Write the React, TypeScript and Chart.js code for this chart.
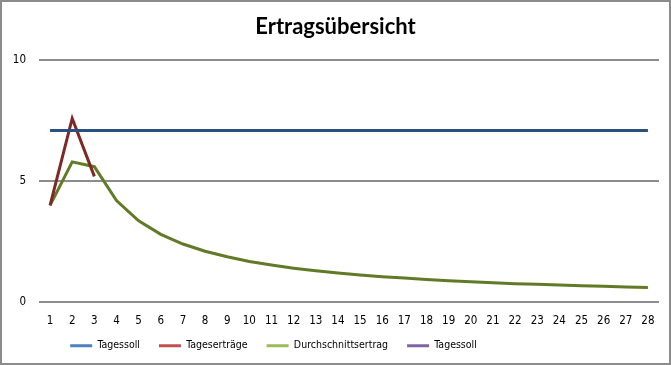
import React, { useEffect, useRef } from "react";
import { Chart, registerables } from "chart.js";

Chart.register(...registerables);

const days = [
  "1", "2", "3", "4", "5", "6", "7", "8", "9", "10", "11", "12", "13", "14",
  "15", "16", "17", "18", "19", "20", "21", "22", "23", "24", "25", "26", "27", "28",
];
const tagessoll = [
  7.1, 7.1, 7.1, 7.1, 7.1, 7.1, 7.1, 7.1, 7.1, 7.1, 7.1, 7.1, 7.1, 7.1,
  7.1, 7.1, 7.1, 7.1, 7.1, 7.1, 7.1, 7.1, 7.1, 7.1, 7.1, 7.1, 7.1, 7.1,
];
const tagesertraege = [4.0, 7.6, 5.2];
const durchschnitt = [
  4.0, 5.8, 5.6, 4.2, 3.36, 2.8, 2.4, 2.1, 1.87, 1.68, 1.53, 1.4, 1.29, 1.2,
  1.12, 1.05, 0.99, 0.93, 0.88, 0.84, 0.8, 0.76, 0.73, 0.7, 0.67, 0.65, 0.62, 0.6,
];
const tagessoll2: (number | null)[] = [];

const seriesNames = ["Tagessoll", "Tageserträge", "Durchschnittsertrag", "Tagessoll"];
const lineColors = ["#2b4f80", "#7d2926", "#617a26", "#5f4a7c"];
const legendColors = ["#4f81bd", "#c0504d", "#9bbb59", "#8064a2"];
const yTicks = [0, 5, 10];

// candidate narrow fonts with tick / legend sizes
const fontChoices = [
  { family: "Liberation Sans Narrow", tick: 13, legend: 12 },
  { family: "DejaVu Sans Condensed", tick: 11.5, legend: 10.5 },
  { family: "Liberation Sans", tick: 11.5, legend: 10 },
];

function isInstalled(family: string): boolean {
  const c = document.createElement("canvas").getContext("2d")!;
  const sample = "Tagessoll Durchschnitt 0123456789";
  for (const base of ["monospace", "serif"]) {
    c.font = `40px ${base}`;
    const w0 = c.measureText(sample).width;
    c.font = `40px '${family}', ${base}`;
    if (Math.abs(c.measureText(sample).width - w0) > 0.5) return true;
  }
  return false;
}

export default function App() {
  const ref = useRef<HTMLCanvasElement>(null);
  useEffect(() => {
    document.body.style.margin = "0";
    const choice = fontChoices.find((f) => isInstalled(f.family)) || fontChoices[2];
    const font = `'${choice.family}', sans-serif`;
    const ts = choice.tick;
    const ls = choice.legend;
    const legendPad = 19;
    const titleFont = "Lato, 'Open Sans', sans-serif";
    const legendShift = {
      id: "legendShift",
      afterLayout(c: any) {
        if (c.legend) c.legend.right -= 124;
      },
    };
    const chart = new Chart(ref.current!, {
      type: "line",
      data: {
        labels: days,
        datasets: [tagessoll, tagesertraege, durchschnitt, tagessoll2].map((d, i) => ({
          label: seriesNames[i],
          data: d,
          borderColor: lineColors[i],
          backgroundColor: legendColors[i],
          borderWidth: 3,
          pointRadius: 0,
          tension: 0,
          fill: false,
        })),
      },
      options: {
        animation: false,
        responsive: false,
        maintainAspectRatio: false,
        layout: { padding: { left: 10, right: 10, top: 0, bottom: 2 } },
        plugins: {
          title: {
            display: true,
            text: "Ertragsübersicht",
            color: "#000",
            font: { family: titleFont, size: 22, weight: "bold" },
            padding: { top: 12, bottom: 20 },
          },
          legend: {
            position: "bottom",
            labels: {
              color: "#000",
              font: { family: font, size: ls },
              boxWidth: 22,
              boxHeight: 3,
              padding: legendPad,
              generateLabels: (c: any) =>
                c.data.datasets.map((ds: any, i: number) => ({
                  text: ds.label,
                  fillStyle: legendColors[i],
                  strokeStyle: legendColors[i],
                  lineWidth: 0,
                  hidden: false,
                  datasetIndex: i,
                  fontColor: "#000",
                })),
            },
          },
          tooltip: { enabled: false },
        },
        scales: {
          x: {
            offset: true,
            grid: { display: false, drawTicks: false },
            border: { display: false },
            afterFit: (axis: any) => {
              axis.height = 49 - ls - legendPad;
            },
            ticks: {
              color: "#000",
              font: { family: font, size: ts },
              mirror: true,
              padding: -(19 + (1.2 * ts) / 2),
              maxRotation: 0,
              autoSkip: false,
            },
          },
          y: {
            min: 0,
            max: 10,
            afterBuildTicks: (axis: any) => {
              axis.ticks = yTicks.map((v) => ({ value: v }));
            },
            afterFit: (axis: any) => {
              axis.width = 27;
            },
            grid: { color: "#8c8c8c", lineWidth: 2, drawTicks: false },
            border: { display: false },
            ticks: {
              color: "#000",
              font: { family: font, size: ts },
              padding: 13,
            },
          },
        },
      },
      plugins: [legendShift],
    } as any);
    return () => chart.destroy();
  }, []);
  return (
    <div
      style={{
        position: "absolute",
        left: 0,
        top: 0,
        width: 671,
        height: 365,
        boxSizing: "border-box",
        border: "2px solid #8c8c8c",
        background: "#fff",
      }}
    >
      <canvas ref={ref} width={667} height={361} style={{ display: "block" }} />
    </div>
  );
}
